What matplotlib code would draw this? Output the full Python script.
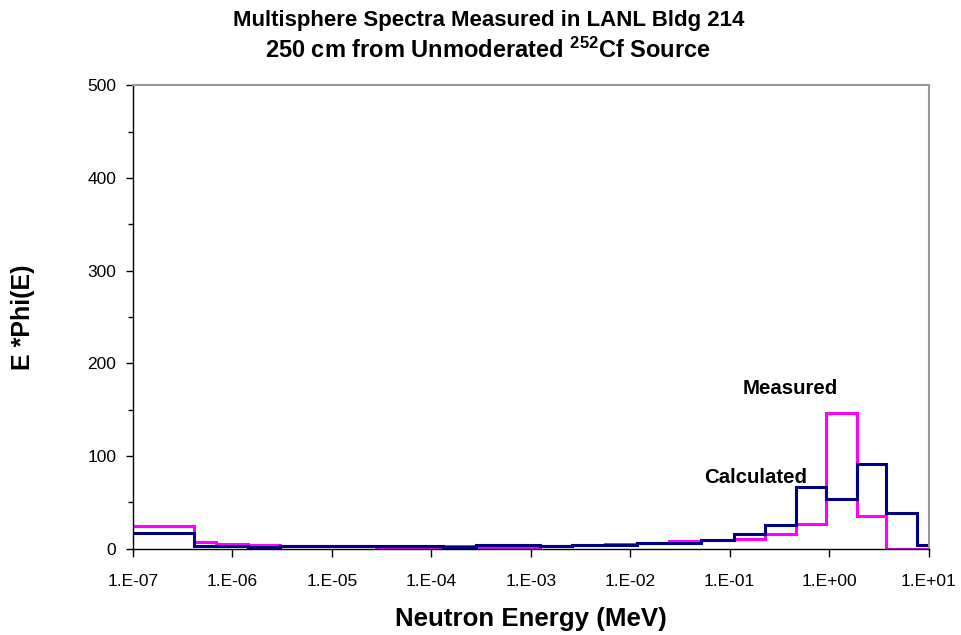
import numpy as np
import matplotlib
matplotlib.use('Agg')
from matplotlib import pyplot as plt
from matplotlib.ticker import FixedLocator, NullLocator, MultipleLocator

plt.rcParams['font.family'] = ['Liberation Sans', 'DejaVu Sans']
plt.rcParams['mathtext.fontset'] = 'custom'
plt.rcParams['mathtext.rm'] = 'Liberation Sans'
plt.rcParams['mathtext.bf'] = 'Liberation Sans:bold'

# bin edges (MeV)
edges = [1e-7, 4.14e-7, 6.9e-7, 1.45e-6, 3.0e-6, 6.3e-6, 1.35e-5, 2.8e-5, 6.0e-5,
         1.3e-4, 2.8e-4, 6.0e-4, 1.25e-3, 2.6e-3, 5.6e-3, 1.17e-2, 2.45e-2, 5.2e-2,
         1.1e-1, 2.25e-1, 4.6e-1, 9.3e-1, 1.9, 3.7, 7.6, 1.5e1]

measured = [24.0, 6.5, 5.0, 3.8, 3.2, 2.6, 2.6, 2.0, 1.2, 3.2, 1.8, 1.8, 2.5, 4.0,
            5.4, 6.0, 7.9, 9.0, 10.0, 15.5, 26.3, 146.8, 35.3, 0.0, 0.0]
calculated = [16.5, 3.2, 2.4, 1.8, 2.4, 2.4, 2.4, 2.4, 2.2, 1.8, 3.6, 3.6, 2.4, 4.3,
              3.8, 6.1, 6.1, 9.0, 16.2, 25.8, 66.3, 53.3, 90.9, 37.9, 3.6]

xticks = [1e-7, 1e-6, 1e-5, 1e-4, 1e-3, 1e-2, 1e-1, 1e0, 1e1]
xticklabels = ['1.E-07', '1.E-06', '1.E-05', '1.E-04', '1.E-03', '1.E-02',
               '1.E-01', '1.E+00', '1.E+01']

fig = plt.figure(figsize=(9.61, 6.35), dpi=100)
ax = fig.add_axes([0.1384, 0.1362, 0.8278, 0.7292])

ax.stairs(measured, edges, baseline=None, color='#FF00FF', linewidth=2.2)
ax.stairs(calculated, edges, baseline=None, color='#000080', linewidth=2.2)

ax.set_xscale('log')
ax.set_xlim(1e-7, 1e1)
ax.set_ylim(0, 500)

ax.xaxis.set_major_locator(FixedLocator(xticks))
ax.xaxis.set_minor_locator(NullLocator())
ax.set_xticklabels(xticklabels, fontsize=12.5)
ax.yaxis.set_major_locator(MultipleLocator(100))
ax.yaxis.set_minor_locator(MultipleLocator(50))
plt.yticks(fontsize=12.5)

ax.tick_params(axis='x', which='major', direction='out', length=6, width=1, pad=12)
ax.tick_params(axis='y', which='major', direction='out', length=5, width=1, pad=7)
ax.tick_params(axis='y', which='minor', direction='out', length=3.5, width=1)

for s in ['left', 'bottom']:
    ax.spines[s].set_color('#000000')
    ax.spines[s].set_linewidth(1.0)
for s in ['top', 'right']:
    ax.spines[s].set_color('#999999')
    ax.spines[s].set_linewidth(1.5)

ax.set_xlabel('Neutron Energy (MeV)', fontsize=18.6, fontweight='bold', labelpad=13)
ax.set_ylabel('E *Phi(E)', fontsize=18, fontweight='bold', labelpad=38)

# curve labels
ax.text(0.408, 167, 'Measured', fontsize=14.7, fontweight='bold', ha='center', va='baseline')
ax.text(0.181, 70.5, 'Calculated', fontsize=14.7, fontweight='bold', ha='center', va='baseline')

fig.text(0.508, 1 - 25.7 / 635, 'Multisphere Spectra Measured in LANL Bldg 214',
         fontsize=16, fontweight='bold', ha='center', va='baseline')
fig.text(0.508, 1 - 58.3 / 635, r'250 cm from Unmoderated $\mathbf{{}^{252}}$Cf Source',
         fontsize=17, fontweight='bold', ha='center', va='baseline')

plt.savefig('out.png', dpi=100)
